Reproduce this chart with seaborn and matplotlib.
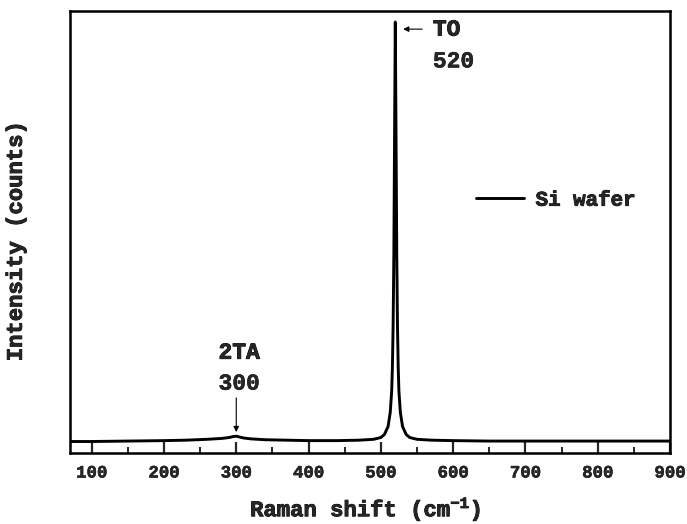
import numpy as np
import pandas as pd
import matplotlib
matplotlib.use("Agg")
import matplotlib.pyplot as plt
from matplotlib.ticker import MultipleLocator, NullLocator
import matplotlib.patheffects as pe
import seaborn as sns

# Raman shift (cm^-1) and intensity (arbitrary counts)
raman_shift = [70, 100, 150, 200, 230, 260, 280, 290, 295, 300, 305, 310, 320, 340,
               370, 400, 440, 470, 490, 500, 505, 510, 513, 515, 516, 517, 518, 519,
               520, 521, 522, 523, 524, 525, 527, 530, 535, 540, 550, 570, 600, 650,
               700, 800, 900]
intensity = [26, 26, 27, 28, 29, 31, 33, 35, 37, 38, 36, 34, 32, 30,
             29, 28, 28, 29, 31, 35, 42, 60, 92, 140, 195, 290, 450, 720,
             975, 720, 450, 290, 195, 140, 92, 60, 42, 35, 31, 29, 28, 27,
             27, 27, 27]
series_label = "Si wafer"
x_ticks = [100, 200, 300, 400, 500, 600, 700, 800, 900]
peak_labels = [("TO", "520", 520, 975), ("2TA", "300", 300, 38)]

df = pd.DataFrame({"Raman shift": raman_shift, "Intensity": intensity})

sns.set_style("ticks")
plt.rcParams["font.family"] = ["Liberation Mono", "DejaVu Sans Mono"]
plt.rcParams["font.weight"] = "bold"
plt.rcParams["mathtext.fontset"] = "custom"
plt.rcParams["mathtext.rm"] = "Liberation Mono:bold"
plt.rcParams["mathtext.default"] = "rm"

heavy = [pe.withStroke(linewidth=0.6, foreground="black")]
light = [pe.withStroke(linewidth=0.35, foreground="black")]

fig = plt.figure(figsize=(6.87, 5.24), dpi=100)
ax = fig.add_axes([70 / 687, 1 - 453 / 524, 600 / 687, 442 / 524])

sns.lineplot(data=df, x="Raman shift", y="Intensity", ax=ax, color="black",
             linewidth=2.1, label=series_label)

ax.set_xlim(70, 900)
ax.set_ylim(0, 1000)
ax.set_xticks(x_ticks)
ax.xaxis.set_minor_locator(MultipleLocator(50))
ax.yaxis.set_major_locator(NullLocator())
ax.tick_params(axis="x", which="major", direction="in", length=8, width=1.6,
               labelsize=12.5, pad=9)
ax.tick_params(axis="x", which="minor", direction="in", length=4, width=1.4)
for lab in ax.get_xticklabels():
    lab.set_fontweight("bold")
    lab.set_path_effects(light)
for sp in ax.spines.values():
    sp.set_visible(True)
    sp.set_linewidth(1.8)
    sp.set_color("black")

xl = ax.set_xlabel("Raman shift (cm$^{-1}$)", fontsize=16, fontweight="bold")
xl.set_path_effects(heavy)
ax.xaxis.set_label_coords(0.493, -0.095)
yl = ax.set_ylabel("Intensity (counts)", fontsize=16, fontweight="bold")
yl.set_path_effects(heavy)
ax.yaxis.set_label_coords(-0.072, 0.48)

# TO peak annotation
name, val, px, py = peak_labels[0]
ax.annotate("", xy=(px + 7, 959), xytext=(px + 41, 959),
            arrowprops=dict(arrowstyle="-|>", color="black", lw=0.8,
                            mutation_scale=8))
t1 = ax.text(px + 52, 959, name, fontsize=16.5, fontweight="bold", va="center", ha="left")
t2 = ax.text(px + 52, 887, val, fontsize=16.5, fontweight="bold", va="center", ha="left")

# 2TA annotation
name, val, px, py = peak_labels[1]
t3 = ax.text(px + 4, 228, name, fontsize=16.5, fontweight="bold", va="center", ha="center")
t4 = ax.text(px + 4, 158, val, fontsize=16.5, fontweight="bold", va="center", ha="center")
ax.annotate("", xy=(px, py + 3), xytext=(px, 131),
            arrowprops=dict(arrowstyle="-|>", color="black", lw=0.8,
                            mutation_scale=8))
for t in (t1, t3):
    t.set_path_effects(heavy)
for t in (t2, t4):
    t.set_path_effects(light)

leg = ax.legend(loc="center left", bbox_to_anchor=(0.677, 0.572),
                frameon=False, fontsize=15, handlelength=2.3, handletextpad=0.55,
                borderpad=0, borderaxespad=0)
for t in leg.get_texts():
    t.set_fontweight("bold")
    t.set_path_effects(heavy)

fig.savefig("out.png", dpi=100)
